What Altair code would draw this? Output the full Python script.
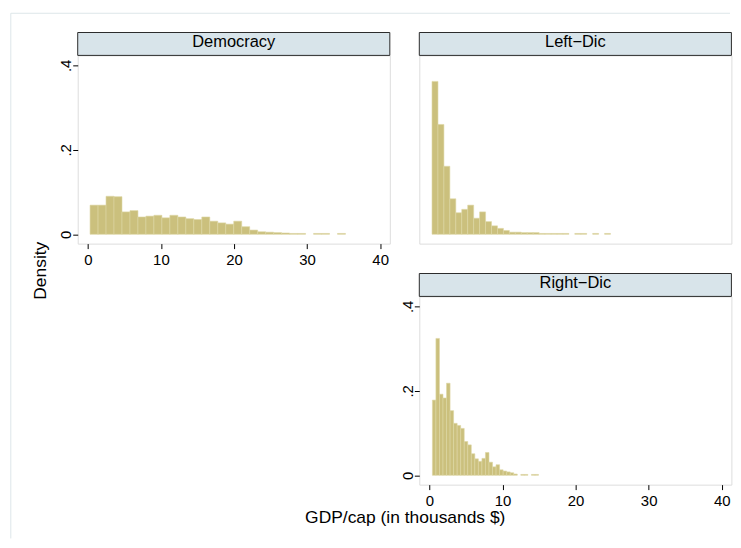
import altair as alt
import pandas as pd

FONT = "Liberation Sans"

PANEL_NAMES = ["Democracy", "Left\u2212Dic", "Right\u2212Dic"]

# histogram bins: first bin start, bin width, densities
DEM_START, DEM_WIDTH = 0.31, 1.092
DEM_DENS = [0.069, 0.069, 0.090, 0.089, 0.053, 0.056, 0.041, 0.043, 0.045, 0.039,
            0.045, 0.041, 0.037, 0.035, 0.041, 0.031, 0.027, 0.024, 0.031, 0.018,
            0.010, 0.006, 0.005, 0.004, 0.003, 0.002, 0.002, 0.0, 0.002, 0.002,
            0.0, 0.002]

LEFT_START, LEFT_WIDTH = 0.36, 0.814
LEFT_DENS = [0.362, 0.260, 0.161, 0.084, 0.051, 0.059, 0.069, 0.038, 0.053, 0.030,
             0.020, 0.014, 0.009, 0.005, 0.005, 0.004, 0.004, 0.004, 0.002, 0.002,
             0.002, 0.002, 0.002, 0.0, 0.002, 0.002, 0.0, 0.002, 0.0, 0.002]

RIGHT_START, RIGHT_WIDTH = 0.41, 0.484
RIGHT_DENS = [0.178, 0.324, 0.192, 0.183, 0.218, 0.153, 0.123, 0.118, 0.111, 0.080,
              0.072, 0.051, 0.039, 0.033, 0.040, 0.054, 0.031, 0.020, 0.025, 0.013,
              0.010, 0.008, 0.006, 0.003, 0.0, 0.002, 0.002, 0.0, 0.002, 0.002]

X_TICKS = [0, 10, 20, 30, 40]
Y_TICKS = [0, 0.2, 0.4]
Y_LABELS = ["0", ".2", ".4"]

X_TITLE = "GDP/cap (in thousands $)"
Y_TITLE = "Density"

X_DOMAIN = [-1.38, 41.32]
Y_DOMAIN = [-0.0221, 0.4235]

W, H = 313.4, 189
COL_GAP, ROW_GAP = 29, 53
HEAD_H = 23

BAR_FILL = "#cbc07d"
BAR_STROKE = "#ddd6a4"
HEAD_FILL = "#d8e4ea"
HEAD_STROKE = "#2a2a2a"
FRAME_COLOR = "#dde6e9"


def bins_df(start, width, dens):
    rows = []
    for i, d in enumerate(dens):
        if d > 0:
            rows.append({"x0": start + i * width, "x1": start + (i + 1) * width,
                         "density": d, "base": 0.0})
    return pd.DataFrame(rows)


y_label_expr = " : ".join(
    [f"datum.value == {v} ? '{l}'" for v, l in zip(Y_TICKS[:-1], Y_LABELS[:-1])]
) + f" : '{Y_LABELS[-1]}'"


def x_axis(title=None, title_x=0, title_y=0):
    kw = dict(values=X_TICKS, labelAngle=0, labelBaseline="alphabetic", labelPadding=16,
              labelFlush=False, labelFontSize=15, labelFont=FONT, labelColor="black",
              tickSize=5, tickColor="black", domain=False, grid=False)
    if title:
        kw.update(title=title, titleX=title_x, titleY=title_y, titleAlign="center",
                  titleBaseline="alphabetic", titleFontSize=17.5, titleFont=FONT,
                  titleFontWeight="normal", titleColor="black", titleAngle=0)
    else:
        kw.update(title=None)
    return alt.Axis(**kw)


def y_axis(title=None, title_x=0, title_y=0):
    kw = dict(values=Y_TICKS, labelExpr=y_label_expr, labelAngle=270, labelAlign="center",
              labelBaseline="alphabetic", labelPadding=2, labelFontSize=15, labelFont=FONT,
              labelColor="black", tickSize=5, tickColor="black", domain=False, grid=False)
    if title:
        kw.update(title=title, titleX=title_x, titleY=title_y, titleAlign="center",
                  titleBaseline="alphabetic", titleFontSize=17.5, titleFont=FONT,
                  titleFontWeight="normal", titleColor="black", titleAngle=270)
    else:
        kw.update(title=None)
    return alt.Axis(**kw)


def panel(name, df, xax, yax, extra=()):
    bars = alt.Chart(df).mark_rect(fill=BAR_FILL, stroke=BAR_STROKE, strokeWidth=0.6).encode(
        x=alt.X("x0:Q", scale=alt.Scale(domain=X_DOMAIN, nice=False, zero=False), axis=xax),
        x2="x1:Q",
        y=alt.Y("density:Q", scale=alt.Scale(domain=Y_DOMAIN, nice=False, zero=False), axis=yax),
        y2="base:Q",
    )
    head_data = alt.Data(values=[{"label": name}])
    head_rect = alt.Chart(head_data).mark_rect(
        fill=HEAD_FILL, stroke=HEAD_STROKE, strokeWidth=1
    ).encode(x=alt.value(0), x2=alt.value(W), y=alt.value(-HEAD_H), y2=alt.value(0))
    head_text = alt.Chart(head_data).mark_text(
        font=FONT, fontSize=16.5, color="black", align="center", baseline="alphabetic"
    ).encode(x=alt.value(W / 2), y=alt.value(-8.5), text="label:N")
    return alt.layer(bars, head_rect, head_text, *extra).properties(width=W, height=H)


one = alt.Data(values=[{"a": 0}])
frame_top = alt.Chart(one).mark_rule(color=FRAME_COLOR, strokeWidth=1).encode(
    x=alt.value(-67.2), x2=alt.value(655), y=alt.value(-42.3))
frame_left = alt.Chart(one).mark_rule(color=FRAME_COLOR, strokeWidth=1).encode(
    x=alt.value(-67.2), y=alt.value(-42.3), y2=alt.value(485))

p1 = panel(PANEL_NAMES[0], bins_df(DEM_START, DEM_WIDTH, DEM_DENS),
           x_axis(), y_axis(Y_TITLE, -32.7, 215.7), extra=(frame_top, frame_left))
p2 = panel(PANEL_NAMES[1], bins_df(LEFT_START, LEFT_WIDTH, LEFT_DENS), None, None)
p3 = panel(PANEL_NAMES[2], bins_df(RIGHT_START, RIGHT_WIDTH, RIGHT_DENS),
           x_axis(X_TITLE, -14.6, 38.3), y_axis())

empty = alt.Chart(one).mark_point(opacity=0, size=1).encode(
    x=alt.value(W / 2), y=alt.value(H / 2)
).properties(width=W, height=H, view=alt.ViewBackground(stroke="transparent"))

chart = alt.concat(
    p1, p2, empty, p3,
    columns=2,
    spacing={"row": ROW_GAP, "column": COL_GAP},
    bounds="flush",
    padding={"left": 1, "top": 2.5, "right": 0, "bottom": 0},
).configure_view(stroke="#1a1a1a", strokeWidth=1).configure(background="white")

chart.save("out.html", embed_options={"renderer": "svg", "actions": False})
